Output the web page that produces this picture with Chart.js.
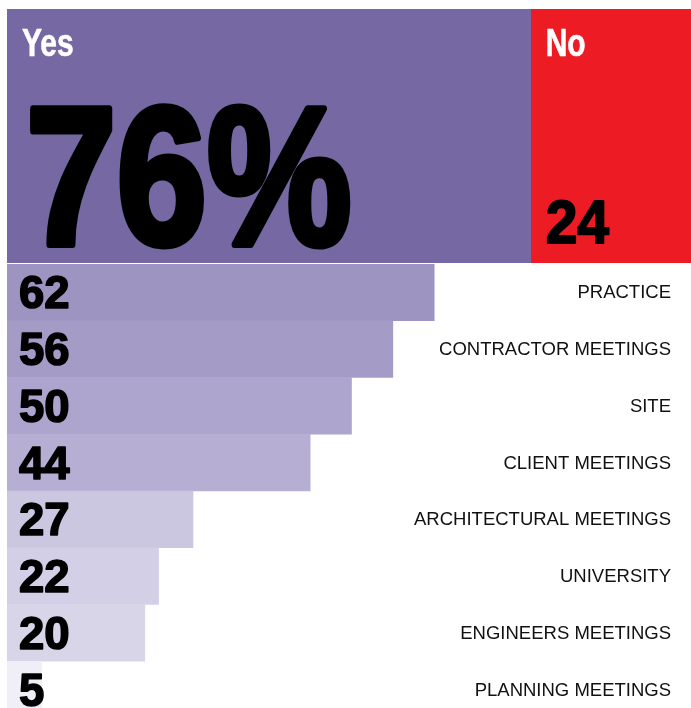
<!DOCTYPE html>
<html>
<head>
<meta charset="utf-8">
<script src="https://cdn.jsdelivr.net/npm/chart.js@4/dist/chart.umd.min.js"></script>
<style>
    html, body { margin: 0; padding: 0; background: #fff; overflow: hidden; }
    #wrap { position: relative; width: 700px; height: 720px; }
    #answerChart { position: absolute; left: 0; top: 9px; }
    #breakdownChart { position: absolute; left: 0; top: 264px; }
</style>
</head>
<body>
<div id="wrap">
    <canvas id="answerChart" width="700" height="254"></canvas>
    <canvas id="breakdownChart" width="700" height="454"></canvas>
</div>
<script>
const answerLabels = ['Yes', 'No']
const answerValues = [76, 24]
const answerColors = ['#7669A3', '#ED1C24']

const categories = [
    'PRACTICE',
    'CONTRACTOR MEETINGS',
    'SITE',
    'CLIENT MEETINGS',
    'ARCHITECTURAL MEETINGS',
    'UNIVERSITY',
    'ENGINEERS MEETINGS',
    'PLANNING MEETINGS'
]
const shares = [62, 56, 50, 44, 27, 22, 20, 5]
const barColors = ['#9D94C2', '#A49BC7', '#ADA5CD', '#B6AFD3', '#CCC7E1', '#D3CFE6', '#D8D5E9', '#F0EEF6']

const FONT = '"Liberation Sans", Arial, sans-serif'

// squeezed heavy text, like a condensed black face
function heavyText(ctx, text, x, y, size, squeeze, extra) {
    ctx.save()
    ctx.translate(x, y)
    ctx.scale(squeeze, 1)
    ctx.font = 'bold ' + size + 'px ' + FONT
    ctx.textBaseline = 'alphabetic'
    ctx.textAlign = 'left'
    ctx.fillText(text, 0, 0)
    if (extra) {
        ctx.lineWidth = extra
        ctx.lineJoin = 'round'
        ctx.strokeStyle = ctx.fillStyle
        ctx.strokeText(text, 0, 0)
    }
    ctx.restore()
}

const answerText = {
    id: 'answerText',
    afterDatasetsDraw(chart) {
        const ctx = chart.ctx
        const yes = chart.getDatasetMeta(0).data[0]
        const no = chart.getDatasetMeta(1).data[0]
        const top = yes.y - yes.height / 2
        const bottom = yes.y + yes.height / 2

        ctx.fillStyle = '#fff'
        heavyText(ctx, answerLabels[0], yes.base + 15, top + 47, 39, 0.77, 0.6)
        heavyText(ctx, answerLabels[1], no.base + 15, top + 47, 39, 0.77, 0.6)

        ctx.fillStyle = '#000'
        heavyText(ctx, answerValues[0] + '%', yes.base + 19, bottom - 19, 196, 0.83, 7)
        heavyText(ctx, String(answerValues[1]), no.base + 15, bottom - 20, 62, 0.92, 2)
    }
}

const breakdownText = {
    id: 'breakdownText',
    afterDatasetsDraw(chart) {
        const ctx = chart.ctx
        chart.getDatasetMeta(0).data.forEach((bar, i) => {
            ctx.fillStyle = '#000'
            heavyText(ctx, String(shares[i]), bar.base + 12, bar.y + 16, 47, 0.97, 1.6)

            ctx.save()
            ctx.font = '18.5px ' + FONT
            ctx.fillStyle = '#111'
            ctx.textAlign = 'right'
            ctx.textBaseline = 'middle'
            ctx.fillText(categories[i], 671, bar.y + 1)
            ctx.restore()
        })
    }
}

const hiddenScales = (stacked) => ({
    x: { min: 0, max: 100, display: false, stacked: stacked },
    y: { display: false, stacked: stacked }
})

new Chart(document.getElementById('answerChart'), {
    type: 'bar',
    data: {
        labels: [''],
        datasets: answerLabels.map((label, i) => ({
            label: label,
            data: [answerValues[i]],
            backgroundColor: answerColors[i],
            barPercentage: 1,
            categoryPercentage: 1
        }))
    },
    options: {
        indexAxis: 'y',
        responsive: false,
        animation: false,
        devicePixelRatio: 1,
        layout: { padding: { left: 7, right: 4, top: 0, bottom: 0 } },
        scales: hiddenScales(true),
        plugins: { legend: { display: false }, tooltip: { enabled: false } }
    },
    plugins: [answerText]
})

new Chart(document.getElementById('breakdownChart'), {
    type: 'bar',
    data: {
        labels: categories,
        datasets: [{
            label: 'Share',
            data: shares,
            backgroundColor: barColors,
            barPercentage: 1,
            categoryPercentage: 1
        }]
    },
    options: {
        indexAxis: 'y',
        responsive: false,
        animation: false,
        devicePixelRatio: 1,
        layout: { padding: { left: 7, right: 4, top: 0, bottom: 0 } },
        scales: hiddenScales(false),
        plugins: { legend: { display: false }, tooltip: { enabled: false } }
    },
    plugins: [breakdownText]
})
</script>
</body>
</html>
